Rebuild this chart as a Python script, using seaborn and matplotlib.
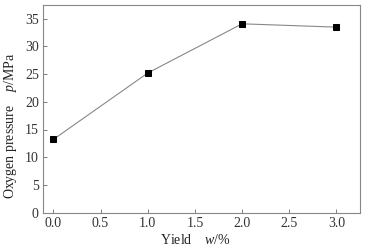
import matplotlib
matplotlib.use('Agg')
import matplotlib.pyplot as plt
import seaborn as sns
import pandas as pd

# data
yield_pct = [0.0, 1.0, 2.0, 3.0]
oxygen_pressure = [13.2, 25.2, 34.1, 33.5]
x_ticks = [0.0, 0.5, 1.0, 1.5, 2.0, 2.5, 3.0]
y_ticks = [0, 5, 10, 15, 20, 25, 30, 35]

df = pd.DataFrame({'yield': yield_pct, 'pressure': oxygen_pressure})

sns.set_style('ticks')
plt.rcParams['font.family'] = ['Liberation Serif', 'DejaVu Serif']
plt.rcParams['mathtext.fontset'] = 'custom'
plt.rcParams['mathtext.rm'] = 'Liberation Serif'
plt.rcParams['mathtext.it'] = 'Liberation Serif:italic'

fig = plt.figure(figsize=(3.67, 2.5), dpi=100)
ax = fig.add_axes([0.117, 0.15, 0.864, 0.83])

sns.lineplot(data=df, x='yield', y='pressure', ax=ax, color='#888888',
             linewidth=0.8, marker='s', markersize=4.5,
             markerfacecolor='black', markeredgecolor='black')

ax.set_xlim(-0.11, 3.25)
ax.set_ylim(0, 37.5)
ax.set_xticks(x_ticks)
ax.set_xticklabels([f'{t:.1f}' for t in x_ticks])
ax.set_yticks(y_ticks)
ax.tick_params(direction='in', length=3, width=0.6, color='#666666',
               labelsize=10, labelcolor='#333333', pad=3)
for s in ax.spines.values():
    s.set_color('#888888')
    s.set_linewidth(0.8)

ax.set_xlabel('Yield    $\\it{w}$/%', fontsize=10, color='#222222')
ax.set_ylabel('Oxygen pressure    $\\it{p}$/MPa', fontsize=10, color='#222222')
# labels sit a bit off-centre in the original
ax.xaxis.set_label_coords(0.48, -0.1)
ax.yaxis.set_label_coords(-0.074, 0.42)

fig.savefig('out.png', dpi=100)
